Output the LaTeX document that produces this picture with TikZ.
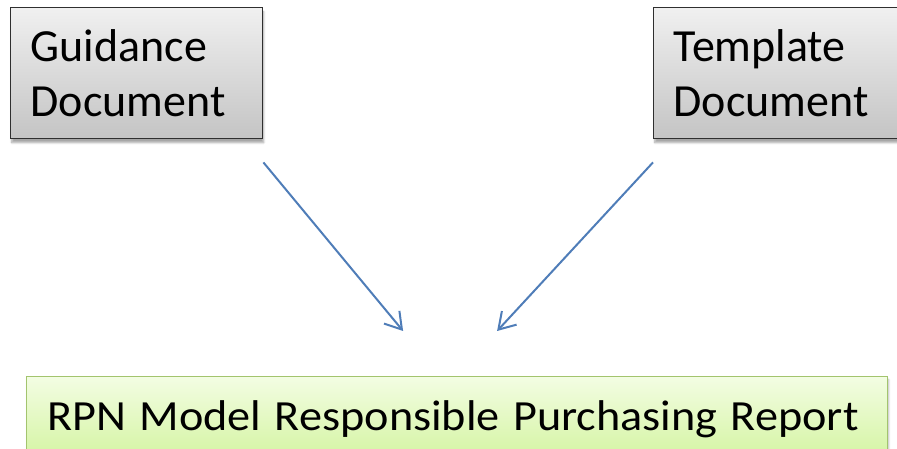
\documentclass[tikz,border=0pt]{standalone}
\usepackage{fontspec}
\setmainfont{Carlito}
\usetikzlibrary{arrows.meta, positioning, shadows.blur}
\definecolor{docedge}{HTML}{2F2F2F}
\definecolor{doctop}{HTML}{F0F0F0}
\definecolor{docbottom}{HTML}{C4C4C4}
\definecolor{reptop}{HTML}{F3FDE3}
\definecolor{repbottom}{HTML}{D3F4A0}
\definecolor{repedge}{HTML}{A3C46E}
\definecolor{arrowblue}{HTML}{4F7DB8}
\newcommand{\widetitle}[1]{\scalebox{1.075}[1]{\spaceskip=0.29em\relax #1}}

\begin{document}
\begin{tikzpicture}[
    x=1pt, y=1pt,
    docbox/.style={rectangle, draw=docedge, line width=1.4pt, top color=doctop, bottom color=docbottom,
        minimum width=252pt, minimum height=131pt, inner xsep=20pt, text width=212pt, align=left,
        anchor=north west, font=\fontsize{46}{55}\selectfont,
        blur shadow={shadow xshift=1pt, shadow yshift=-4pt, shadow blur steps=6, shadow opacity=35}},
    reportbox/.style={rectangle, draw=repedge, line width=1.2pt, top color=reptop, bottom color=repbottom,
        minimum width=861pt, minimum height=85pt, inner xsep=21pt, text width=819pt, align=left,
        anchor=north west, font=\fontsize{43}{52}\selectfont,
        blur shadow={shadow xshift=1pt, shadow yshift=-3pt, shadow blur steps=6, shadow opacity=30}},
    arrow/.style={-{Straight Barb[length=16pt, width=20pt]}, line width=2pt, arrowblue}
]
    \useasboundingbox (0,0) rectangle (897,449);

    % Source documents
    \node[docbox] (guide) at (10, 442) {Guidance\\Document};
    \node[docbox, minimum width=270pt, text width=230pt] (template) at (653, 442) {Template\\Document};

    % Report
    \node[reportbox] (report) at (26, 73) {\widetitle{RPN Model Responsible Purchasing Report}};

    % Arrow ends
    \coordinate (gtail) at ([yshift=-23pt]guide.south east);
    \coordinate (ttail) at ([yshift=-23pt]template.south west);
    \coordinate (ghead) at ([xshift=-54pt, yshift=45pt]report.north);
    \coordinate (thead) at ([xshift=40pt, yshift=45pt]report.north);

    \draw[arrow] (gtail) -- (ghead);
    \draw[arrow] (ttail) -- (thead);
\end{tikzpicture}
\end{document}
